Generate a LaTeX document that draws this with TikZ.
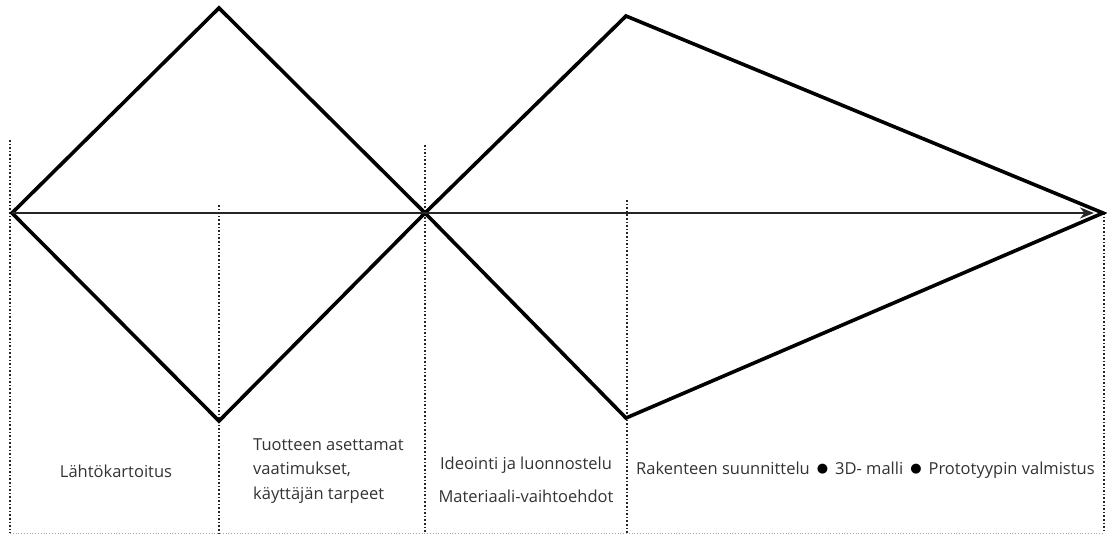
\documentclass[tikz,border=0pt]{standalone}
\usepackage{fontspec}
\setmainfont{Open Sans}
\newfontfamily\symfont{DejaVu Sans}
\usetikzlibrary{arrows.meta}
\tikzset{
  shapeline/.style={black, line width=3.6pt, line join=miter},
  axisline/.style={black!85, line width=1.7pt, -{Stealth[length=14pt,width=11pt,inset=4.5pt]}},
  guideline/.style={black!85, line width=1.6pt, dotted},
  baseline/.style={black!35, line width=0.8pt, dotted},
  phasetext/.style={text=black!80, font=\fontsize{16.5}{24.5}\selectfont, inner sep=0pt}
}
\newcommand{\dotsep}{\hspace{7pt}\raisebox{1.5pt}{\color{black}\symfont\fontsize{13}{13}\selectfont ●}\hspace{7pt}}
\begin{document}
\begin{tikzpicture}[x=1pt,y=-1pt]
\useasboundingbox (0,0) rectangle (1107,535);

\coordinate (start) at (12,213);
\coordinate (top1) at (219,8);
\coordinate (bot1) at (219,421);
\coordinate (mid) at (425,213);
\coordinate (top2) at (626,16);
\coordinate (bot2) at (626,418);
\coordinate (tip) at (1103,213);
\coordinate (axisend) at (1094,213);

\draw[guideline] (10,140) -- (10,533);
\draw[guideline] (219,205) -- (219,533);
\draw[guideline] (425,145) -- (425,533);
\draw[guideline] (627,200) -- (627,533);
\draw[guideline] (1104,213) -- (1104,533);
\draw[baseline] (10,533) -- (1104,533);

\draw[shapeline] (start) -- (top1) -- (mid) -- (bot1) -- cycle;
\draw[shapeline] (mid) -- (top2) -- (tip) -- (bot2) -- cycle;
\draw[axisline] (start) -- (axisend);

\node[phasetext] (survey) at (116,471) {Lähtökartoitus};
\node[phasetext, anchor=west, align=left] (needs) at (253,471) {Tuotteen asettamat\\vaatimukset,\\käyttäjän tarpeet};
\node[phasetext] (ideas) at (526,465) {Ideointi ja luonnostelu};
\node[phasetext] (materials) at (526,496) {Materiaali-vaihtoehdot};
\node[phasetext, anchor=west] (design) at (636,470) {Rakenteen suunnittelu\dotsep 3D- malli\dotsep Prototyypin valmistus};

\end{tikzpicture}
\end{document}
